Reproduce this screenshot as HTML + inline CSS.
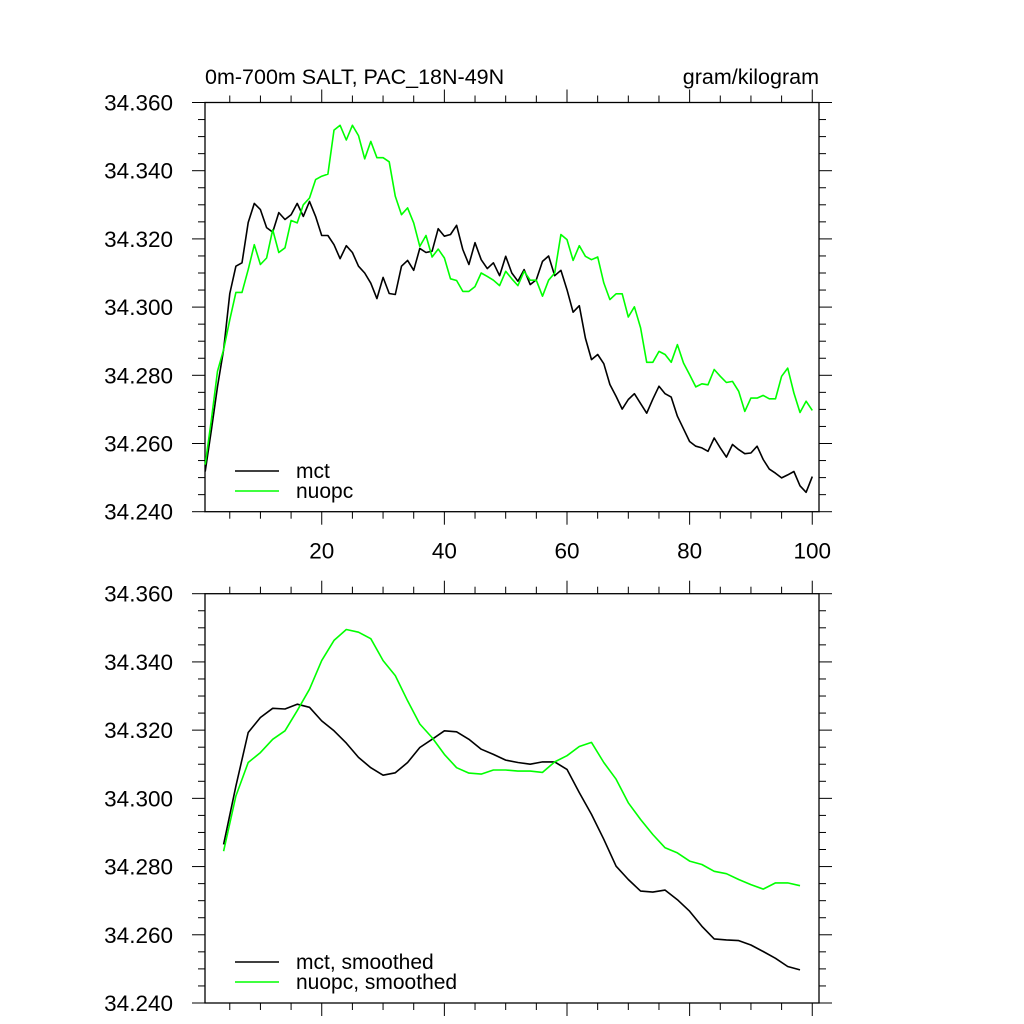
<!DOCTYPE html>
<html><head><meta charset="utf-8"><style>
html,body{margin:0;padding:0;background:#fff;}
svg{display:block;font-family:"Liberation Sans",Arial,sans-serif;}
</style></head><body>
<svg id="chart" width="1024" height="1024" viewBox="0 0 1024 1024" xmlns="http://www.w3.org/2000/svg">
<rect width="1024" height="1024" fill="#fff"/>
<text x="205" y="84" font-size="21.5">0m-700m SALT, PAC_18N-49N</text>
<text x="819" y="84" font-size="21.5" text-anchor="end">gram/kilogram</text>
<g id="top"></g>
<g id="bot"></g>
</svg>
<script>
const mctRaw = [34.2518,34.264,34.2767,34.2875,34.304,34.312,34.313,34.3248,34.3304,34.3286,
34.3233,34.322,34.3277,34.3257,34.3271,34.3304,34.3266,34.331,34.3266,34.321,
34.321,34.3183,34.3142,34.318,34.316,34.312,34.310,34.307,34.3025,34.3087,
34.304,34.3037,34.312,34.3137,34.3108,34.3172,34.316,34.3164,34.323,34.3208,
34.3213,34.324,34.3169,34.3125,34.3189,34.3139,34.3113,34.313,34.3092,
34.3149,34.31,34.3076,34.311,34.3066,34.308,34.3134,34.315,34.3092,
34.3108,34.3051,34.2985,34.3004,34.2909,34.2846,34.2861,34.2834,34.2773,34.2738,
34.2701,34.2729,34.2746,34.2717,34.2689,34.273,34.2768,34.2746,34.2736,34.268,34.2643,
34.2606,34.2592,34.2587,34.2577,34.2616,34.2587,34.256,34.2597,34.2582,34.257,
34.2572,34.2592,34.2553,34.2525,34.2513,34.2499,34.2508,34.2518,34.2476,34.2457,34.2503];
const nuopcRaw = [34.2538,34.267,34.2812,34.2875,34.2963,34.3043,34.3043,34.311,34.3183,34.3125,
34.3144,34.3227,34.316,34.3174,34.3254,34.3247,34.33,34.332,34.3374,34.3384,
34.339,34.3519,34.3533,34.349,34.3533,34.3503,34.3435,34.3486,34.3438,34.3438,
34.3426,34.3325,34.3271,34.3291,34.3247,34.3178,34.321,34.3147,34.317,34.3144,
34.3083,34.3078,34.3046,34.3046,34.306,34.310,34.309,34.3079,
34.3063,34.3105,34.3083,34.3063,34.3105,34.3079,34.3079,34.3032,34.3079,34.3100,
34.3213,34.3198,34.3137,34.3180,34.3149,34.3139,34.3147,34.3071,34.3022,34.3039,
34.3039,34.2971,34.3001,34.2939,34.2838,34.2838,34.2870,34.2861,34.2838,34.2890,
34.2836,34.2802,34.2766,34.2775,34.2772,34.2817,34.2797,34.2779,34.2782,34.2753,
34.2694,34.2733,34.2733,34.2741,34.2731,34.2731,34.2797,34.2821,34.2748,34.2691,34.2724,34.2697];
const smoothYears = [4,6,8,10,12,14,16,18,20,22,24,26,28,30,32,34,36,38,40,42,44,46,48,50,
52,54,56,58,60,62,64,66,68,70,72,74,76,78,80,82,84,86,88,90,92,94,96,98];
const mctSmooth = [34.2865,34.3036,34.3193,34.3237,34.3264,34.3262,34.3276,34.3267,34.3227,34.3198,34.3162,34.312,
34.309,34.3068,34.3075,34.3105,34.3149,34.3173,34.3198,34.3195,34.3173,34.3144,34.3129,34.3112,
34.3105,34.31,34.3107,34.3107,34.3085,34.3017,34.2953,34.288,34.2801,34.2762,34.2728,34.2725,
34.2731,34.2703,34.2669,34.2625,34.2588,34.2585,34.2583,34.257,34.2551,34.2531,34.2507,34.2497];
const nuopcSmooth = [34.2845,34.3007,34.3105,34.3134,34.3173,34.3198,34.3257,34.332,34.3404,34.3463,34.3495,34.3487,
34.3468,34.3404,34.336,34.3286,34.3218,34.3178,34.3129,34.309,34.3074,34.3071,34.3083,34.3083,
34.308,34.308,34.3076,34.3107,34.3125,34.3152,34.3164,34.3105,34.3056,34.2987,34.2938,34.2894,
34.2855,34.284,34.2816,34.2806,34.2786,34.2779,34.2762,34.2747,34.2734,34.2752,34.2752,34.2744];
const yTickLabels = ["34.240","34.260","34.280","34.300","34.320","34.340","34.360"];
const xTickLabels = ["20","40","60","80","100"];

const NS="http://www.w3.org/2000/svg";
const L=205,R=819,XMIN=0.96,XMAX=101.1,YMIN=34.24,YMAX=34.36;
function xs(v){return L+(v-XMIN)/(XMAX-XMIN)*(R-L);}
function mk(tag,attrs,parent){const e=document.createElementNS(NS,tag);for(const k in attrs)e.setAttribute(k,attrs[k]);parent.appendChild(e);return e;}

function panel(g,T,B,showX,series,legend,prefix){
  const ys=v=>B-(v-YMIN)/(YMAX-YMIN)*(B-T);
  const frame=mk('rect',{x:L,y:T,width:R-L,height:B-T,fill:'none',stroke:'#000','stroke-width':1.3},g);
  
  
  for(let i=0;i<=24;i++){
    const v=YMIN+i*0.005, y=ys(v), major=i%4===0, len=major?13:7;
    const t1=mk('line',{x1:L-len,x2:L,y1:y,y2:y,stroke:'#000','stroke-width':1},g);
    
    
    const t2=mk('line',{x1:R,x2:R+len,y1:y,y2:y,stroke:'#000','stroke-width':1},g);
    
    
    if(major){
      const tx=mk('text',{x:173,y:y+8,'font-size':22.5,'text-anchor':'end'},g);
      tx.textContent=yTickLabels[i/4];
      
      
    }
  }
  for(let v=5;v<=100;v+=5){
    const x=xs(v), major=v%20===0, len=major?13:7;
    const a=mk('line',{x1:x,x2:x,y1:T-len,y2:T,stroke:'#000','stroke-width':1},g);
    
    
    const b=mk('line',{x1:x,x2:x,y1:B,y2:B+len,stroke:'#000','stroke-width':1},g);
    
    
    if(major&&showX){
      const tx=mk('text',{x:x,y:B+47,'font-size':22.5,'text-anchor':'middle'},g);
      tx.textContent=xTickLabels[v/20-1];
      
      
    }
  }
  series.forEach(s=>{
    const pts=s.y.map((v,i)=>xs(s.x[i]).toFixed(1)+','+ys(v).toFixed(1)).join(' ');
    const p=mk('polyline',{points:pts,fill:'none',stroke:s.c,'stroke-width':1.6,'stroke-linejoin':'round'},g);
    
    
  });
  legend.forEach((lg,i)=>{
    const y=lg.y;
    const ln=mk('line',{x1:235,x2:279,y1:y,y2:y,stroke:lg.c,'stroke-width':1.6},g);
    
    
    const tx=mk('text',{x:296,y:y+7,'font-size':21},g);
    tx.textContent=lg.t;
    
    
  });
}
const rawX=mctRaw.map((v,i)=>i+1);
const rawXn=nuopcRaw.map((v,i)=>i+1);
panel(document.getElementById('top'),102.5,511.7,true,
  [{x:rawX,y:mctRaw,c:'#000',name:'mct-line'},{x:rawXn,y:nuopcRaw,c:'#00ff00',name:'nuopc-line'}],
  [{y:471,c:'#000',t:'mct'},{y:491,c:'#00ff00',t:'nuopc'}],'top');
panel(document.getElementById('bot'),593.7,1003,false,
  [{x:smoothYears,y:mctSmooth,c:'#000',name:'mct-smoothed-line'},{x:smoothYears,y:nuopcSmooth,c:'#00ff00',name:'nuopc-smoothed-line'}],
  [{y:962,c:'#000',t:'mct, smoothed'},{y:982,c:'#00ff00',t:'nuopc, smoothed'}],'bottom');
</script>
</body></html>
